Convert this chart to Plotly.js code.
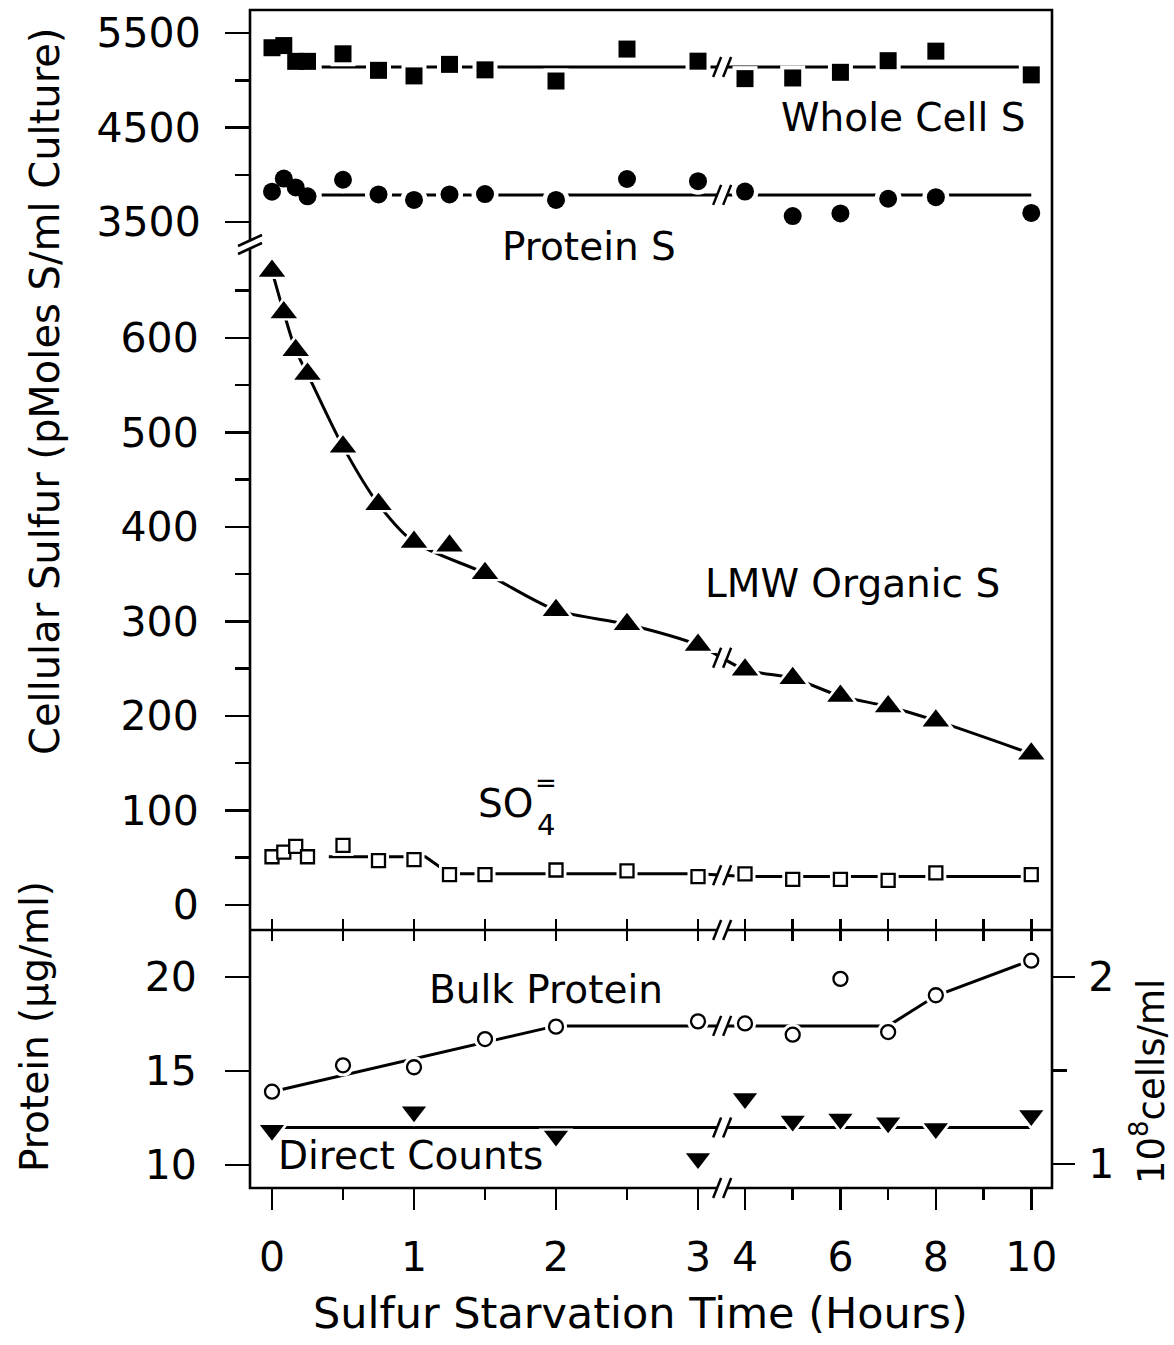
<!DOCTYPE html>
<html><head><meta charset="utf-8">
<script src="https://cdn.plot.ly/plotly-3.0.1.min.js"></script>
<style>html,body{margin:0;padding:0;background:#fff;} #chart{width:1174px;height:1345px;}</style>
</head><body><div id="chart"></div>
<script>
// ---------- data ----------
const timesS = [0, 0.083, 0.167, 0.25, 0.5, 0.75, 1, 1.25, 1.5, 2, 2.5, 3, 4, 5, 6, 7, 8, 10];
const wholeCellS = [5344, 5367, 5200, 5200, 5280, 5105, 5046, 5168, 5110, 4992, 5330, 5202, 5017, 5024, 5084, 5207, 5308, 5057];
const proteinS = [3821, 3959, 3866, 3772, 3947, 3792, 3734, 3792, 3796, 3733, 3955, 3932, 3822, 3563, 3591, 3746, 3763, 3596];
const lmwOrganicS = [671, 627, 587, 562, 485, 424, 384, 380, 351, 312, 297, 275, 249, 240, 221, 210, 195, 160];
const sulfate = [51, 56, 62, 51, 63, 47, 48, 32, 32, 37, 36, 30, 33, 27, 27, 26, 34, 32];

// hand-drawn curves of the original figure
const wholeFitT = [0.35, 10];
const wholeFitV = [5140, 5140];
const proteinFitT = [0.35, 10];
const proteinFitV = [3787, 3787];
const lmwFitSkip = [7];               // the 1.25 h point lies off the drawn curve
const sulfateFitT = [0.4, 1.08, 1.25, 3, 4, 10];
const sulfateFitV = [51, 51, 33, 33, 30, 30];

const timesP = [0, 0.5, 1, 1.5, 2, 3, 4, 5, 6, 7, 8, 10];
const bulkProtein = [13.9, 15.3, 15.2, 16.7, 17.36, 17.64, 17.53, 16.93, 19.9, 17.07, 19.03, 20.87];
const bulkFitT = [0, 2, 7, 8, 10];
const bulkFitV = [13.9, 17.4, 17.4, 19.0, 20.9];

const timesC = [0, 1, 2, 3, 4, 5, 6, 7, 8, 10];
const directCounts = [1.18, 1.28, 1.15, 1.03, 1.35, 1.23, 1.24, 1.22, 1.19, 1.26];
const countsFitT = [0, 10];
const countsFitV = [1.195, 1.195];

const xMajorTicks = [0, 1, 2, 3, 4, 6, 8, 10];
const xMajorLabels = ['0', '1', '2', '3', '4', '6', '8', '10'];
const xMinorTicks = [0.5, 1.5, 2.5, 5, 7, 9];
const dividerTicks = [0, 0.5, 1, 1.5, 2, 2.5, 3, 4, 5, 6, 7, 8, 9, 10];
const sulfurLowTicks = [0, 100, 200, 300, 400, 500, 600];
const sulfurLowMinor = [50, 150, 250, 350, 450, 550, 650];
const sulfurHighTicks = [3500, 4500, 5500];
const sulfurHighMinor = [4000, 5000];
const proteinTicks = [10, 15, 20];
const cellTicks = [1, 2];
const cellMinor = [1.5];

// ---------- broken time axis (0-3 h, then 4-10 h compressed) ----------
const BREAK_START = 3, BREAK_END = 4, POST_OFFSET = 3.331, POST_SCALE = 0.336, BREAK_MARK = 3.17;
function ax(t) { return t <= BREAK_START ? t : POST_OFFSET + (t - BREAK_END) * POST_SCALE; }
function valueAtBreak(ts, vs) {
  const us = ts.map(ax);
  for (let i = 0; i < us.length - 1; i++) {
    if (us[i] <= BREAK_MARK && us[i + 1] >= BREAK_MARK) {
      const f = (BREAK_MARK - us[i]) / (us[i + 1] - us[i]);
      return vs[i] + f * (vs[i + 1] - vs[i]);
    }
  }
  return vs[0];
}

// ---------- frame geometry (pixels) ----------
const W = 1174, H = 1345;
const FR = {l: 250, r: 1052, t: 10, b: 1188};
const pw = FR.r - FR.l, ph = FR.b - FR.t;
const PX = x => (x - FR.l) / pw;
const PY = y => (FR.b - y) / ph;
const yDiv = PY(930), yBrk = PY(245);
const XR = [-22 / 142, (pw - 22) / 142];

const FONT = 'DejaVu Sans';
const BLACK = '#000';

// ---------- traces ----------
const traces = [];
function line(ts, vs, xa, ya, spline) {
  traces.push({x: ts.map(ax), y: vs, xaxis: xa, yaxis: ya, mode: 'lines',
    line: {color: BLACK, width: 3, shape: spline ? 'spline' : 'linear', smoothing: 0.8},
    hoverinfo: 'skip', showlegend: false});
}
function markers(ts, vs, xa, ya, symbol, size, open, halo) {
  traces.push({x: ts.map(ax), y: vs, xaxis: xa, yaxis: ya, mode: 'markers',
    marker: {symbol: symbol, size: size + halo, color: '#fff', line: {width: 0}},
    hoverinfo: 'skip', showlegend: false});
  traces.push({x: ts.map(ax), y: vs, xaxis: xa, yaxis: ya, mode: 'markers',
    marker: open ? {symbol: symbol, size: size, color: '#fff', line: {color: BLACK, width: 2.3}}
                 : {symbol: symbol, size: size, color: BLACK, line: {width: 0}},
    hoverinfo: 'skip', showlegend: false});
}

const lmwFitT = timesS.filter((t, i) => lmwFitSkip.indexOf(i) < 0);
const lmwFitV = lmwOrganicS.filter((v, i) => lmwFitSkip.indexOf(i) < 0);

line(wholeFitT, wholeFitV, 'x2', 'y2');
line(proteinFitT, proteinFitV, 'x2', 'y2');
line(lmwFitT, lmwFitV, 'x2', 'y', true);
line(sulfateFitT, sulfateFitV, 'x2', 'y');
line(bulkFitT, bulkFitV, 'x', 'y3');
line(countsFitT, countsFitV, 'x', 'y4');

markers(timesS, wholeCellS, 'x2', 'y2', 'square', 17, false, 8);
markers(timesS, proteinS, 'x2', 'y2', 'circle', 18, false, 9);
markers(timesS, lmwOrganicS, 'x2', 'y', 'triangle-up', 23, false, 9);
markers(timesS, sulfate, 'x2', 'y', 'square', 13, true, 8);
markers(timesP, bulkProtein, 'x', 'y3', 'circle', 14, true, 8);
markers(timesC, directCounts, 'x', 'y4', 'triangle-down', 21, false, 9);
traces.push({x: [ax(0)], y: [15], xaxis: 'x3', yaxis: 'y3', mode: 'markers', marker: {size: 1, opacity: 0}, showlegend: false, hoverinfo: 'skip'});

// ---------- shapes: frame, divider, break marks ----------
const shapes = [
  {type: 'rect', xref: 'paper', yref: 'paper', x0: 0, x1: 1, y0: 0, y1: 1, line: {color: BLACK, width: 2.6}, layer: 'above'},
  {type: 'line', xref: 'paper', yref: 'paper', x0: 0, x1: 1, y0: yDiv, y1: yDiv, line: {color: BLACK, width: 2.6}, layer: 'above'}
];
function breakMark(xref, xanchor, yref, yanchor) {
  const base = {xref: xref, yref: yref, xsizemode: 'pixel', ysizemode: 'pixel', xanchor: xanchor, yanchor: yanchor, layer: 'above'};
  shapes.push(Object.assign({type: 'rect', x0: -5, x1: 5, y0: -3, y1: 3, fillcolor: '#fff', line: {width: 0}}, base));
  shapes.push(Object.assign({type: 'line', x0: -9, y0: -10, x1: -1, y1: 10, line: {color: BLACK, width: 2.5}}, base));
  shapes.push(Object.assign({type: 'line', x0: 1, y0: -10, x1: 9, y1: 10, line: {color: BLACK, width: 2.5}}, base));
}
breakMark('x2', BREAK_MARK, 'y2', valueAtBreak(wholeFitT, wholeFitV));
breakMark('x2', BREAK_MARK, 'y2', valueAtBreak(proteinFitT, proteinFitV));
breakMark('x2', BREAK_MARK, 'y', valueAtBreak(lmwFitT, lmwFitV));
breakMark('x2', BREAK_MARK, 'y', valueAtBreak(sulfateFitT, sulfateFitV));
breakMark('x', BREAK_MARK, 'y3', valueAtBreak(bulkFitT, bulkFitV));
breakMark('x', BREAK_MARK, 'y4', valueAtBreak(countsFitT, countsFitV));
breakMark('x', BREAK_MARK, 'paper', yDiv);
breakMark('x', BREAK_MARK, 'paper', 0);
// left axis break (between the two sulfur scales)
(function () {
  const base = {xref: 'paper', yref: 'paper', xsizemode: 'pixel', ysizemode: 'pixel', xanchor: 0, yanchor: yBrk, layer: 'above'};
  shapes.push(Object.assign({type: 'rect', x0: -3, x1: 3, y0: -4, y1: 5, fillcolor: '#fff', line: {width: 0}}, base));
  shapes.push(Object.assign({type: 'line', x0: -12, y0: -9, x1: 12, y1: 2, line: {color: BLACK, width: 2.5}}, base));
  shapes.push(Object.assign({type: 'line', x0: -12, y0: -1, x1: 12, y1: 10, line: {color: BLACK, width: 2.5}}, base));
})();

// ---------- annotations ----------
function ann(text, x, y, size, angle) {
  return {text: text, xref: 'paper', yref: 'paper', x: PX(x), y: PY(y), xanchor: 'center', yanchor: 'middle',
    showarrow: false, textangle: angle || 0, font: {family: FONT, size: size, color: BLACK}};
}
const annotations = [
  ann('Whole Cell S', 903, 118, 39),
  ann('Protein S', 589, 247, 39),
  ann('LMW Organic S', 852, 583, 39),
  ann('SO', 505, 803, 39),
  ann('4', 546, 825, 29),
  ann('=', 546, 783, 26),
  ann('Bulk Protein', 546, 989, 39),
  ann('Direct Counts', 410, 1155, 39),
  ann('Cellular Sulfur (pMoles S/ml Culture)', 45, 392, 40, -90),
  ann('Protein (µg/ml)', 34, 1027, 39, -90),
  ann('10<sup>8</sup>cells/ml', 1148, 1082, 37, -90),
  ann('Sulfur Starvation Time (Hours)', 640, 1313, 43)
];

// ---------- axes ----------
const tickFont = {family: FONT, size: 41, color: BLACK};
const common = {showgrid: false, zeroline: false, showline: false, tickcolor: BLACK, tickwidth: 2.5, fixedrange: true};

const layout = {
  width: W, height: H,
  margin: {l: FR.l, r: W - FR.r, t: FR.t, b: H - FR.b, pad: 0},
  paper_bgcolor: '#fff', plot_bgcolor: 'rgba(0,0,0,0)',
  showlegend: false, hovermode: false,
  font: {family: FONT, color: BLACK},
  xaxis: Object.assign({}, common, {domain: [0, 1], range: XR, anchor: 'y3',
    tickmode: 'array', tickvals: xMajorTicks.map(ax), ticktext: xMajorLabels,
    ticks: 'outside', ticklen: 21, tickfont: tickFont, ticklabelstandoff: 12,
    minor: {tickmode: 'array', tickvals: xMinorTicks.map(ax), ticks: 'outside', ticklen: 11, tickwidth: 2.5, tickcolor: BLACK, showgrid: false}}),
  xaxis2: Object.assign({}, common, {domain: [0, 1], range: XR, anchor: 'y',
    tickmode: 'array', tickvals: dividerTicks.map(ax), ticks: 'outside', ticklen: 10, showticklabels: false}),
  xaxis3: Object.assign({}, common, {domain: [0, 1], range: XR, anchor: 'y3', side: 'top',
    tickmode: 'array', tickvals: dividerTicks.map(ax), ticks: 'outside', ticklen: 10, showticklabels: false}),
  yaxis: Object.assign({}, common, {domain: [yDiv, yBrk], range: [-26.5, 698.4], anchor: 'x2',
    tickmode: 'array', tickvals: sulfurLowTicks, ticks: 'outside', ticklen: 24, tickfont: tickFont, ticklabelstandoff: 18,
    minor: {tickmode: 'array', tickvals: sulfurLowMinor, ticks: 'outside', ticklen: 14, tickwidth: 2.5, tickcolor: BLACK, showgrid: false}}),
  yaxis2: Object.assign({}, common, {domain: [yBrk, 1], range: [3256.6, 5743.4], anchor: 'x2',
    tickmode: 'array', tickvals: sulfurHighTicks, ticks: 'outside', ticklen: 24, tickfont: tickFont, ticklabelstandoff: 16,
    minor: {tickmode: 'array', tickvals: sulfurHighMinor, ticks: 'outside', ticklen: 14, tickwidth: 2.5, tickcolor: BLACK, showgrid: false}}),
  yaxis3: Object.assign({}, common, {domain: [0, yDiv], range: [8.777, 22.5], anchor: 'x',
    tickmode: 'array', tickvals: proteinTicks, ticks: 'outside', ticklen: 24, tickfont: tickFont, ticklabelstandoff: 20}),
  yaxis4: Object.assign({}, common, {domain: [0, yDiv], range: [0.8717, 2.2513], anchor: 'x', overlaying: 'y3', side: 'right',
    tickmode: 'array', tickvals: cellTicks, ticks: 'outside', ticklen: 22, tickfont: tickFont, ticklabelstandoff: 5,
    minor: {tickmode: 'array', tickvals: cellMinor, ticks: 'outside', ticklen: 14, tickwidth: 2.5, tickcolor: BLACK, showgrid: false}}),
  shapes: shapes,
  annotations: annotations
};

Plotly.newPlot('chart', traces, layout, {displayModeBar: false, staticPlot: true});
</script>
</body></html>
